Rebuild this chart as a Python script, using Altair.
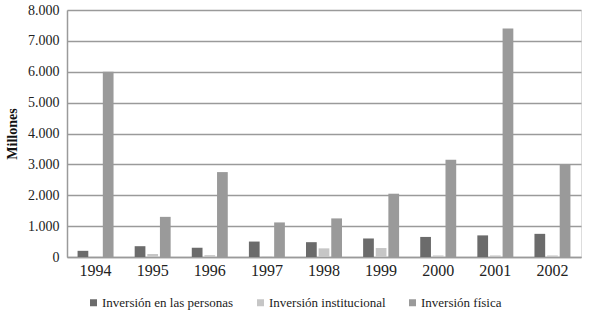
import altair as alt
import pandas as pd

years = ["1994", "1995", "1996", "1997", "1998", "1999", "2000", "2001", "2002"]
personas = [200, 350, 300, 500, 480, 600, 650, 700, 750]
institucional = [10, 100, 60, 20, 280, 290, 50, 50, 50]
fisica = [6000, 1300, 2750, 1120, 1250, 2050, 3150, 7400, 3000]

series = ["Inversión en las personas", "Inversión institucional", "Inversión física"]
colors = ["#6b6b6b", "#c6c6c6", "#9a9a9a"]

rows = []
for i, y in enumerate(years):
    for s, vals in zip(series, [personas, institucional, fisica]):
        rows.append({"Año": y, "Serie": s, "Valor": vals[i]})
df = pd.DataFrame(rows)

FONT = "Liberation Serif"

chart = alt.Chart(df).mark_bar().encode(
    x=alt.X("Año:N", sort=years, title=None,
            scale=alt.Scale(paddingInner=0.37, paddingOuter=0.185),
            axis=alt.Axis(labelAngle=0, ticks=False, domainColor="#9a9a9a", domainWidth=1.5,
                          labelFontSize=16, labelPadding=5, labelColor="#222")),
    xOffset=alt.XOffset("Serie:N", sort=series, scale=alt.Scale(paddingInner=0.15)),
    y=alt.Y("Valor:Q", title="Millones",
            scale=alt.Scale(domain=[0, 8000], nice=False),
            axis=alt.Axis(values=[0, 1000, 2000, 3000, 4000, 5000, 6000, 7000, 8000],
                          labelExpr="replace(format(datum.value, ',d'), ',', '.')",
                          ticks=False, domain=True, domainColor="#9a9a9a", domainWidth=1.5,
                          gridColor="#9a9a9a", gridWidth=1.5,
                          labelFontSize=14, labelPadding=8, labelColor="#222",
                          titleFontSize=14, titleFontWeight="bold", titleColor="#111",
                          titlePadding=8)),
    color=alt.Color("Serie:N", sort=series,
                    scale=alt.Scale(domain=series, range=colors),
                    legend=alt.Legend(title=None, orient="none", direction="horizontal",
                                      legendX=20, legendY=286, symbolType="square",
                                      symbolSize=49, symbolStrokeWidth=0,
                                      labelFontSize=13, labelColor="#222",
                                      columnPadding=20, labelOffset=2, labelLimit=300)),
).properties(
    width=514, height=247,
    autosize=alt.AutoSizeParams(type="none"),
    padding={"left": 67, "top": 10, "right": 8, "bottom": 56},
).configure_view(stroke=None).configure(font=FONT)

chart.save("out.html", embed_options={"renderer": "svg", "actions": False})
